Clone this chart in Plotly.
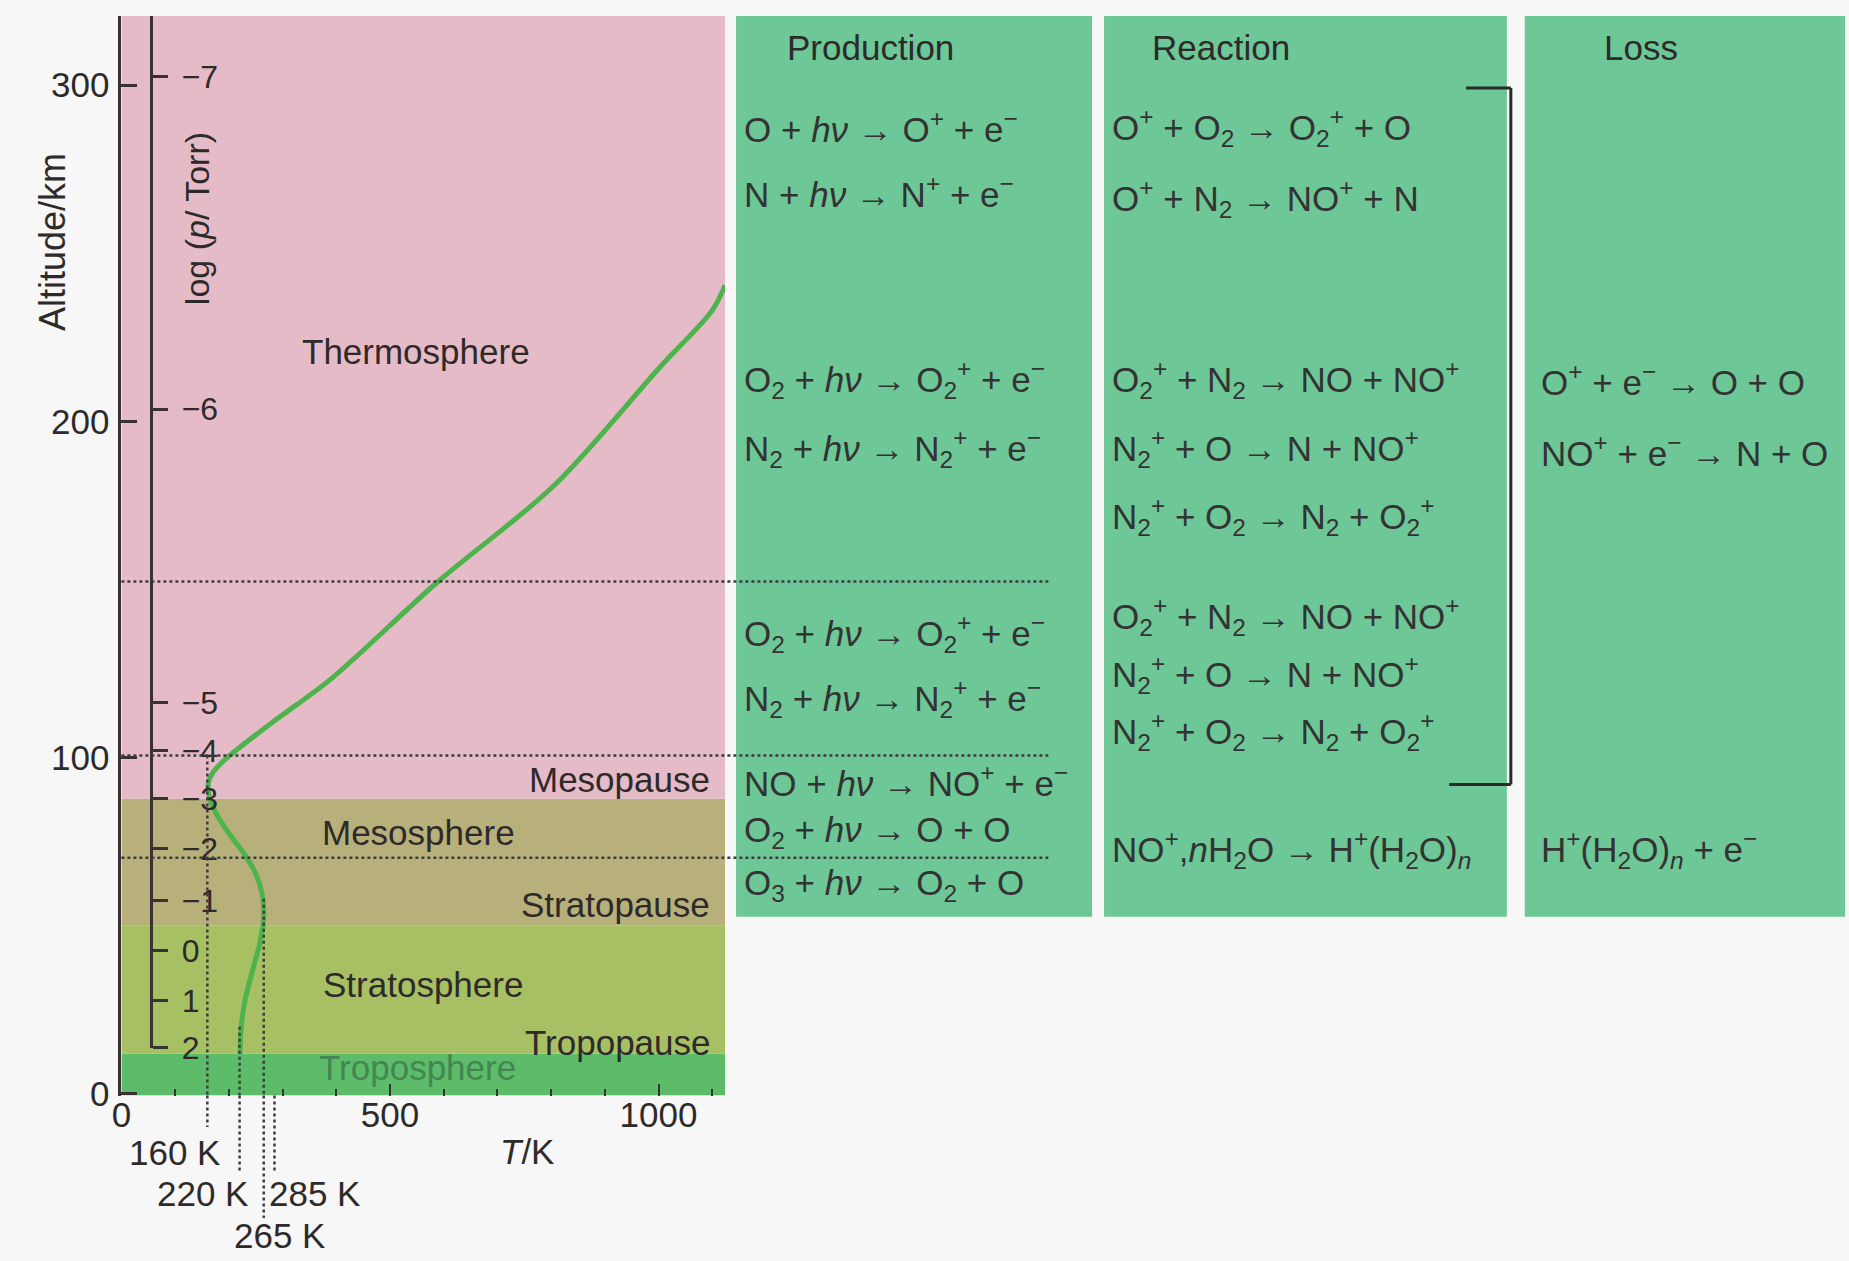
import plotly.graph_objects as go

# ---------------- data ----------------
# temperature profile: T / K against altitude / km
curve_T = [221, 223, 230, 244, 258, 265, 262, 250, 228, 200, 176, 163, 162, 170, 190, 216,
           282, 391, 587, 806, 1002, 1100, 1124]
curve_alt = [11.9, 19.7, 27.7, 36.6, 45, 52.5, 59.5, 65.5, 71.5, 77.5, 83.5, 89, 92.5, 95.5, 99,
             102.5, 110.6, 123.5, 152, 181, 216, 233, 240.5]

layer_bottoms = [-0.5, 11.9, 50.0, 87.8]
layer_tops = [11.9, 50.0, 87.8, 320.5]
layer_colors = ["#5cbc6a", "#a7c064", "#b7b07a", "#e6bbc8"]

alt_ticks = [0, 100, 200, 300]
T_ticks = [0, 500, 1000]
logp_labels = ["\u22127", "\u22126", "\u22125", "\u22124", "\u22123", "\u22122", "\u22121", "0", "1", "2"]
logp_alts = [302.4, 203.6, 116.4, 102.1, 87.8, 72.9, 57.4, 42.6, 27.7, 13.7]

marked_T = [160, 220, 265, 285]
marked_top_alt = [100.6, 20, 58, -0.5]
marked_labels = ["160 K", "220 K", "265 K", "285 K"]

boundary_alts = [152.4, 100.6, 70.2]

region_labels = ["Thermosphere", "Mesopause", "Mesosphere", "Stratopause",
                 "Stratosphere", "Tropopause", "Troposphere"]
region_T = [548, 1100, 554, 1100, 561, 1102, 552]
region_alt = [220.8, 93.5, 77.7, 56.3, 32.4, 15.2, 7.7]
region_anchor = ["center", "right", "center", "right", "center", "right", "center"]

HNU = "<i>h\u03bd</i>"
ARR = "\u2192"
EM = "e<sup>\u2212</sup>"

prod_eqs = [
    f"O + {HNU} {ARR} O<sup>+</sup> + {EM}",
    f"N + {HNU} {ARR} N<sup>+</sup> + {EM}",
    f"O<sub>2</sub> + {HNU} {ARR} O<sub>2</sub><sup>+</sup> + {EM}",
    f"N<sub>2</sub> + {HNU} {ARR} N<sub>2</sub><sup>+</sup> + {EM}",
    f"O<sub>2</sub> + {HNU} {ARR} O<sub>2</sub><sup>+</sup> + {EM}",
    f"N<sub>2</sub> + {HNU} {ARR} N<sub>2</sub><sup>+</sup> + {EM}",
    f"NO + {HNU} {ARR} NO<sup>+</sup> + {EM}",
    f"O<sub>2</sub> + {HNU} {ARR} O + O",
    f"O<sub>3</sub> + {HNU} {ARR} O<sub>2</sub> + O",
]
prod_alts = [287.4, 268.1, 212.3, 192.0, 136.9, 117.6, 93.0, 77.9, 62.1]

react_eqs = [
    f"O<sup>+</sup> + O<sub>2</sub> {ARR} O<sub>2</sub><sup>+</sup> + O",
    f"O<sup>+</sup> + N<sub>2</sub> {ARR} NO<sup>+</sup> + N",
    f"O<sub>2</sub><sup>+</sup> + N<sub>2</sub> {ARR} NO + NO<sup>+</sup>",
    f"N<sub>2</sub><sup>+</sup> + O {ARR} N + NO<sup>+</sup>",
    f"N<sub>2</sub><sup>+</sup> + O<sub>2</sub> {ARR} N<sub>2</sub> + O<sub>2</sub><sup>+</sup>",
    f"O<sub>2</sub><sup>+</sup> + N<sub>2</sub> {ARR} NO + NO<sup>+</sup>",
    f"N<sub>2</sub><sup>+</sup> + O {ARR} N + NO<sup>+</sup>",
    f"N<sub>2</sub><sup>+</sup> + O<sub>2</sub> {ARR} N<sub>2</sub> + O<sub>2</sub><sup>+</sup>",
    f"NO<sup>+</sup>,<i>n</i>H<sub>2</sub>O {ARR} H<sup>+</sup>(H<sub>2</sub>O)<sub><i>n</i></sub>",
]
react_alts = [287.4, 266.3, 212.3, 192.0, 171.6, 142.1, 124.6, 107.7, 72.6]

loss_eqs = [
    f"O<sup>+</sup> + {EM} {ARR} O + O",
    f"NO<sup>+</sup> + {EM} {ARR} N + O",
    f"H<sup>+</sup>(H<sub>2</sub>O)<sub><i>n</i></sub> + {EM}",
]
loss_alts = [212.3, 191.3, 72.6]

panel_titles = ["Production", "Reaction", "Loss"]

# ---------------- geometry ----------------
# positions below are given in pixels of the 1849x1261 target picture
REF_W, REF_H = 1849, 1261
FW, FH = 1849, 1280          # canvas height matching the captured page

def px(x):
    return x / REF_W

def py(y):
    return 1 - y / REF_H

X_RANGE = [0, 1124]
Y_RANGE = [-0.5, 320.5]
PLOT_L = 112
xdom = [px(PLOT_L), px(PLOT_L + 607)]
ydom = [py(1094.7), py(16.1)]
LOGP_AXIS_X = 142

def alt_paper(a):
    return ydom[0] + (a - Y_RANGE[0]) / (Y_RANGE[1] - Y_RANGE[0]) * (ydom[1] - ydom[0])

FONT = "Liberation Sans, Arial, sans-serif"
TXT = "#2e2a2a"
PANEL = "#6ec797"
FS = 35

fig = go.Figure()
fig.add_trace(go.Scatter(
    x=curve_T, y=curve_alt, mode="lines",
    line=dict(color="#4db34d", width=5, shape="spline", smoothing=0.9),
    hoverinfo="skip", showlegend=False))
# invisible trace carrying the log(p) axis
fig.add_trace(go.Scatter(x=[None], y=[None], yaxis="y2", showlegend=False, hoverinfo="skip"))

shapes = []
for b, t, c in zip(layer_bottoms, layer_tops, layer_colors):
    shapes.append(dict(type="rect", xref="x", yref="y", x0=X_RANGE[0], x1=X_RANGE[1],
                       y0=b, y1=t, fillcolor=c, line=dict(width=0), layer="below"))
panel_x = [(730, 1088), (1100, 1505), (1523, 1845)]
for x0, x1 in panel_x:
    shapes.append(dict(type="rect", xref="paper", yref="paper", x0=px(x0), x1=px(x1),
                       y0=py(916), y1=py(16), fillcolor=PANEL, line=dict(width=0), layer="below"))
DOT = dict(color="#3d3d3d", width=2.5, dash="dot")
for a in boundary_alts:
    shapes.append(dict(type="line", xref="paper", yref="y", x0=px(PLOT_L), x1=px(1046),
                       y0=a, y1=a, line=DOT, layer="above"))
marker_ends = [1126, 1171, 1217, 1171]
for T, top, end in zip(marked_T, marked_top_alt, marker_ends):
    if top > Y_RANGE[0]:
        shapes.append(dict(type="line", xref="x", yref="y", x0=T, x1=T, y0=top, y1=Y_RANGE[0],
                           line=DOT, layer="above"))
    shapes.append(dict(type="line", xref="x", yref="paper", x0=T, x1=T, y0=ydom[0], y1=py(end),
                       line=DOT, layer="above"))
BR = dict(color="#2a2a2a", width=3)
shapes.append(dict(type="line", xref="paper", yref="paper", x0=px(1464), x1=px(1509), y0=py(88), y1=py(88), line=BR))
shapes.append(dict(type="line", xref="paper", yref="paper", x0=px(1509), x1=px(1509), y0=py(88), y1=py(784), line=BR))
shapes.append(dict(type="line", xref="paper", yref="paper", x0=px(1447), x1=px(1509), y0=py(784), y1=py(784), line=BR))

ann = []
for lab, T, a, anc in zip(region_labels, region_T, region_alt, region_anchor):
    col = "#458552" if lab == "Troposphere" else TXT
    ann.append(dict(x=T, y=a, xref="x", yref="y", text=lab, showarrow=False,
                    xanchor=anc, yanchor="middle", font=dict(size=FS, color=col, family=FONT)))

label_pos = [(165, 1152), (194, 1193), (271, 1235), (306, 1193)]
for lab, (lx, ly) in zip(marked_labels, label_pos):
    ann.append(dict(x=px(lx), y=py(ly), xref="paper", yref="paper", text=lab, showarrow=False,
                    xanchor="center", yanchor="middle", font=dict(size=FS, color=TXT, family=FONT)))

ann.append(dict(x=px(520), y=py(1151), xref="paper", yref="paper", text="<i>T</i>/K", showarrow=False,
                xanchor="center", yanchor="middle", font=dict(size=FS, color=TXT, family=FONT)))
ann.append(dict(x=px(42), y=py(242), xref="paper", yref="paper", text="Altitude/km", showarrow=False,
                textangle=-90, xanchor="center", yanchor="middle", font=dict(size=36, color=TXT, family=FONT)))
ann.append(dict(x=px(188), y=py(218), xref="paper", yref="paper", text="log (<i>p</i>/ Torr)", showarrow=False,
                textangle=-90, xanchor="center", yanchor="middle", font=dict(size=34, color=TXT, family=FONT)))

title_x = [865, 1218, 1640]
for t, tx in zip(panel_titles, title_x):
    ann.append(dict(x=px(tx), y=py(47), xref="paper", yref="paper", text=t, showarrow=False,
                    xanchor="center", yanchor="middle", font=dict(size=FS, color=TXT, family=FONT)))

for eqs, alts, lx in [(prod_eqs, prod_alts, 736), (react_eqs, react_alts, 1106), (loss_eqs, loss_alts, 1537)]:
    for e, a in zip(eqs, alts):
        ann.append(dict(x=px(lx), y=a, xref="paper", yref="y", text=e, showarrow=False,
                        xanchor="left", yanchor="middle", font=dict(size=FS, color="#333333", family=FONT)))

AX = "#3a3232"
fig.update_layout(
    width=FW, height=FH, margin=dict(l=0, r=0, t=0, b=0),
    paper_bgcolor="#f7f7f7", plot_bgcolor="rgba(0,0,0,0)",
    showlegend=False, shapes=shapes, annotations=ann,
    font=dict(family=FONT, color=TXT),
    xaxis=dict(domain=xdom, range=X_RANGE, tickvals=T_ticks, ticks="inside", ticklen=12,
               tickwidth=2, tickcolor=AX, showgrid=False, zeroline=False, showline=False,
               tickfont=dict(size=FS, color=TXT, family=FONT), ticklabelstandoff=-5,
               minor=dict(dtick=100, tick0=0, ticks="inside", ticklen=7, tickwidth=2,
                          tickcolor=AX, showgrid=False)),
    yaxis=dict(domain=ydom, range=Y_RANGE, tickvals=alt_ticks, ticks="inside", ticklen=16,
               tickwidth=3, tickcolor=AX, showline=True, linecolor=AX, linewidth=3,
               showgrid=False, zeroline=False, tickfont=dict(size=FS, color=TXT, family=FONT),
               ticklabelstandoff=2),
    yaxis2=dict(domain=[alt_paper(logp_alts[-1]), ydom[1]], range=[logp_alts[-1], Y_RANGE[1]],
                anchor="free", position=px(LOGP_AXIS_X), side="right",
                tickvals=logp_alts, ticktext=logp_labels, ticks="outside", ticklen=15,
                tickwidth=3, tickcolor=AX, showline=True, linecolor=AX, linewidth=3,
                showgrid=False, zeroline=False, tickfont=dict(size=32, color=TXT, family=FONT),
                ticklabelstandoff=7),
)

# no page margin and no scrollbars around the figure
PAGE_FIT = ("var s=document.documentElement.style, b=document.body.style;"
            "s.margin='0'; s.padding='0'; s.overflow='hidden';"
            "b.margin='0'; b.padding='0'; b.overflow='hidden';"
            "b.fontSize='0'; b.lineHeight='0';")
fig.write_html("out.html", post_script=PAGE_FIT, config={"displayModeBar": False})
